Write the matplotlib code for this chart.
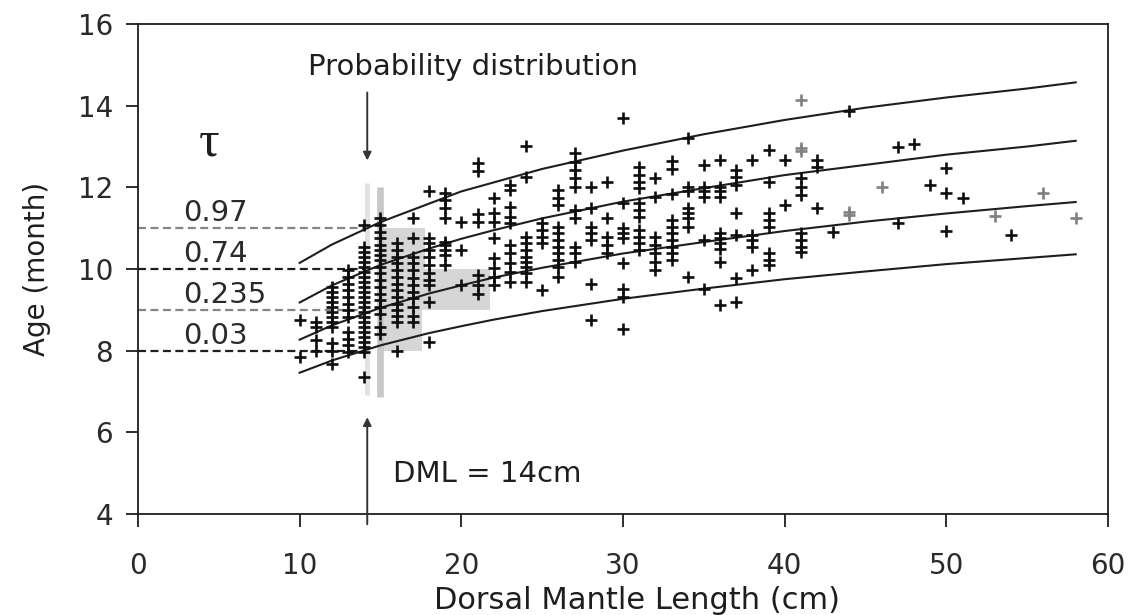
import numpy as np
import matplotlib.pyplot as plt

# quantile curves
curve_x = [10, 12, 15, 18, 20, 22, 25, 30, 35, 40, 45, 50, 55, 58]
q097 = [10.15, 10.60, 11.15, 11.60, 11.90, 12.12, 12.45, 12.90, 13.30, 13.65, 13.95, 14.20, 14.42, 14.57]
q074 = [9.18, 9.60, 10.10, 10.50, 10.74, 10.95, 11.24, 11.65, 11.98, 12.30, 12.55, 12.80, 13.00, 13.14]
q0235 = [8.27, 8.62, 9.05, 9.40, 9.60, 9.79, 10.03, 10.38, 10.66, 10.93, 11.16, 11.36, 11.54, 11.64]
q003 = [7.46, 7.76, 8.13, 8.43, 8.60, 8.76, 8.97, 9.27, 9.52, 9.75, 9.94, 10.12, 10.27, 10.36]

tau_labels = ['0.97', '0.74', '0.235', '0.03']
tau_ages = [11, 10, 9, 8]

# probability distribution at DML = 14cm
prob_bins = [8.5, 9.5, 10.5]
prob_widths = [2.63, 6.86, 2.84]

# observed squid, black crosses
dml = ([10] * 2 + [11] * 4 + [12] * 12 + [13] * 12 + [14] * 24 + [15] * 18 + [16] * 14
       + [17] * 12 + [18] * 11 + [19] * 9 + [20] * 3 + [21] * 7 + [22] * 8 + [23] * 10
       + [24] * 10 + [25] * 5 + [26] * 11 + [27] * 10 + [28] * 7 + [29] * 5 + [30] * 9
       + [31] * 11 + [32] * 7 + [33] * 10 + [34] * 8 + [35] * 6 + [36] * 10 + [37] * 7
       + [38] * 5 + [39] * 8 + [40] * 2 + [41] * 7 + [42] * 3 + [43, 44, 47, 47, 48, 49]
       + [50] * 3 + [51, 54])
age = [8.75, 7.85,
       8.70, 8.58, 8.25, 8.00,
       9.56, 9.44, 9.31, 9.19, 9.07, 8.95, 8.82, 8.70, 8.58, 8.18, 8.00, 7.68,
       9.97, 9.80, 9.64, 9.48, 9.31, 9.15, 8.99, 8.82, 8.45, 8.29, 8.13, 7.96,
       11.07, 10.54, 10.42, 10.30, 10.17, 10.05, 9.93, 9.80, 9.68, 9.56, 9.44, 9.31,
       9.19, 9.07, 8.95, 8.82, 8.70, 8.58, 8.45, 8.33, 8.21, 8.09, 7.96, 7.35,
       11.24, 11.08, 10.91, 10.75, 10.58, 10.46, 10.34, 10.22, 10.05, 9.89, 9.72, 9.56,
       9.40, 9.23, 9.07, 8.90, 8.58, 8.41,
       10.63, 10.46, 10.30, 10.14, 9.97, 9.81, 9.64, 9.48, 9.31, 9.15, 8.99, 8.86, 8.70, 8.00,
       11.24, 10.75, 10.30, 10.14, 9.97, 9.77, 9.60, 9.44, 9.28, 9.07, 8.86, 8.70,
       11.90, 10.75, 10.63, 10.46, 10.30, 10.09, 9.89, 9.72, 9.60, 9.19, 8.21,
       11.86, 11.69, 11.49, 11.24, 10.67, 10.58, 10.46, 10.34, 10.09,
       11.16, 10.46, 9.60,
       12.60, 12.40, 11.35, 11.15, 9.85, 9.60, 9.40,
       11.74, 11.36, 11.16, 10.75, 10.26, 10.02, 9.80, 9.60,
       12.06, 11.94, 11.53, 11.28, 11.12, 10.58, 10.38, 10.14, 9.93, 9.68,
       13.00, 12.26, 10.79, 10.63, 10.46, 10.30, 10.17, 10.05, 9.89, 9.68,
       11.12, 10.95, 10.79, 10.63, 9.48,
       11.94, 11.73, 11.57, 11.04, 10.87, 10.71, 10.54, 10.38, 10.22, 10.05, 9.80,
       12.84, 12.63, 12.43, 12.22, 12.02, 11.45, 11.24, 10.54, 10.38, 10.17,
       12.02, 11.49, 11.03, 10.87, 10.71, 9.64, 8.74,
       12.14, 11.24, 10.79, 10.58, 10.38,
       13.70, 11.61, 11.00, 10.87, 10.75, 10.14, 9.52, 9.31, 8.54,
       12.51, 12.30, 12.14, 11.98, 11.61, 11.45, 11.28, 10.95, 10.79, 10.63, 10.46,
       12.22, 11.77, 10.79, 10.58, 10.38, 10.18, 9.97,
       12.65, 12.45, 11.83, 11.20, 11.03, 10.87, 10.71, 10.54, 10.38, 10.22,
       13.20, 12.02, 11.90, 11.49, 11.37, 11.24, 11.04, 9.80,
       12.55, 12.02, 11.90, 11.77, 10.71, 9.52,
       12.67, 12.02, 11.90, 11.77, 10.87, 10.75, 10.63, 10.50, 10.17, 9.11,
       12.43, 12.26, 12.06, 11.36, 10.83, 9.77, 9.19,
       12.67, 10.83, 10.71, 10.54, 9.97,
       12.92, 12.14, 11.36, 11.20, 11.03, 10.38, 10.22, 10.09,
       12.67, 11.57,
       12.22, 12.02, 11.81, 10.87, 10.71, 10.54, 10.42,
       12.67, 12.51, 11.49,
       10.91, 13.87, 12.98, 11.12, 13.07, 12.06,
       12.47, 11.87, 10.94,
       11.73, 10.83]

# fainter crosses on the right
dml_faint = [41, 41, 41, 44, 44, 46, 53, 56, 58]
age_faint = [14.15, 12.96, 12.88, 11.40, 11.32, 12.02, 11.31, 11.85, 11.24]

ink = '#1e1e1e'

fig = plt.figure(figsize=(11.31, 6.15), dpi=100)
ax = fig.add_axes([0.122, 0.1642, 0.8577, 0.7968])

ax.barh(prob_bins, prob_widths, height=1.0, left=14.94, color='#d6d6d6', zorder=1)
ax.plot([14.18, 14.18], [6.91, 12.1], color='#e2e2e2', lw=3.6, zorder=1.5, solid_capstyle='butt')
ax.plot([14.94, 14.94], [6.87, 12.01], color='#c8c8c8', lw=4.8, zorder=1.5, solid_capstyle='butt')

for yv, col in zip(tau_ages, ['#858585', ink, '#858585', ink]):
    ax.plot([0, 14], [yv, yv], color=col, lw=1.6, ls=(0, (3.6, 2.0)), zorder=2)
for lab, yv in zip(tau_labels, tau_ages):
    ax.text(2.8, yv + 0.17, lab, fontsize=21, color='#2a2a2a', ha='left', va='baseline')

for q in [q097, q074, q0235, q003]:
    ax.plot(curve_x, q, color=ink, lw=1.5, zorder=2.5)

ax.scatter(dml, age, marker='+', s=70, linewidths=1.9, color='#0e0e0e', zorder=3)
ax.scatter(dml_faint, age_faint, marker='+', s=70, linewidths=1.9, color='#808080', zorder=3)

ax.text(4.4, 13.07, 'τ', fontsize=37, family='Liberation Serif', color=ink,
        ha='center', va='center')
ax.text(10.5, 14.75, 'Probability distribution', fontsize=21, color=ink,
        ha='left', va='baseline')
ax.annotate('', xy=(14.18, 12.59), xytext=(14.18, 14.39),
            arrowprops=dict(arrowstyle='-|>', color='#333333', lw=1.4, mutation_scale=12))
ax.annotate('', xy=(14.18, 6.37), xytext=(14.18, 3.75), annotation_clip=False,
            arrowprops=dict(arrowstyle='-|>', color='#333333', lw=1.4, mutation_scale=12,
                            shrinkA=0, shrinkB=0))
ax.text(15.79, 4.79, 'DML = 14cm', fontsize=21, color=ink, ha='left', va='baseline')

ax.set_xlim(0, 60)
ax.set_ylim(4, 16)
ax.set_xticks(np.arange(0, 61, 10))
ax.set_yticks(np.arange(4, 17, 2))
for s in ax.spines.values():
    s.set_linewidth(1.3)
    s.set_color(ink)
ax.tick_params(direction='out', length=9, width=1.3, color=ink, labelsize=20,
               labelcolor='#2a2a2a')
ax.tick_params(axis='x', pad=18)
ax.tick_params(axis='y', pad=9)

ax.set_xlabel('Dorsal Mantle Length (cm)', fontsize=22, color=ink)
ax.xaxis.set_label_coords(0.514, -0.147)
ax.set_ylabel('Age (month)', fontsize=20, color=ink)
ax.yaxis.set_label_coords(-0.09, 0.5)

fig.savefig('out.png', dpi=100)
